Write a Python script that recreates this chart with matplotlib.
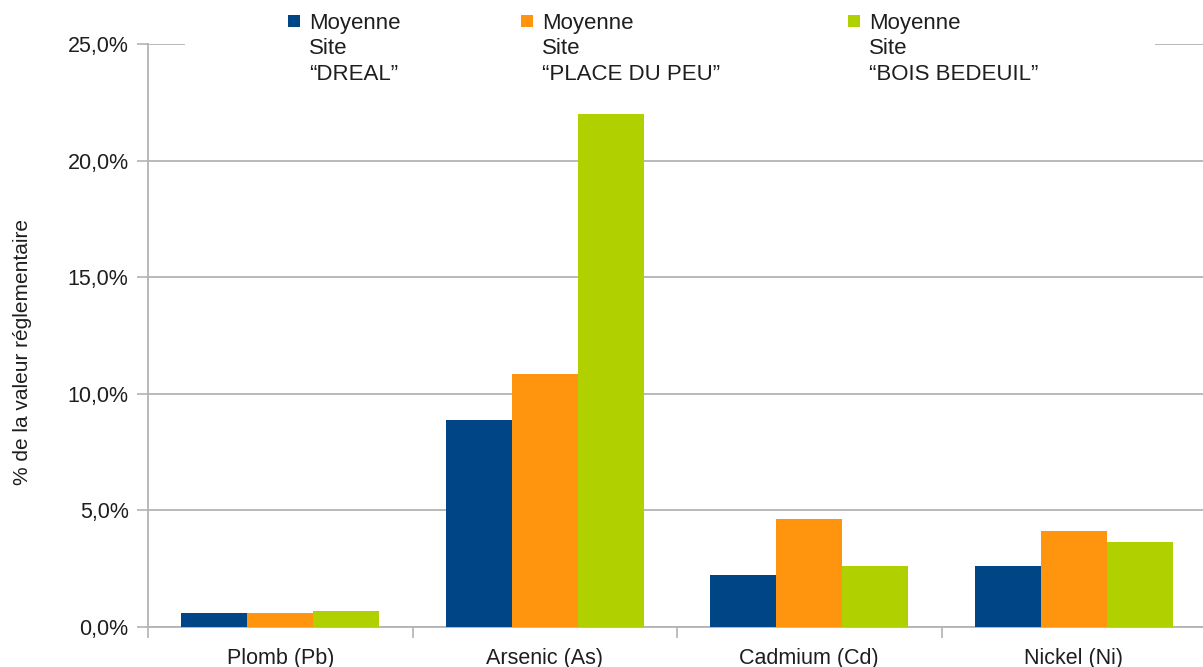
import numpy as np
import matplotlib
matplotlib.use("Agg")
import matplotlib.pyplot as plt
from matplotlib.patches import Rectangle
from matplotlib.ticker import FixedLocator, FuncFormatter

plt.rcParams['font.family'] = ['Liberation Sans', 'DejaVu Sans']

# Data
categories = ["Plomb (Pb)", "Arsenic (As)", "Cadmium (Cd)", "Nickel (Ni)"]
series_names = ["Moyenne\nSite\n“DREAL”",
                "Moyenne\nSite\n“PLACE DU PEU”",
                "Moyenne\nSite\n“BOIS BEDEUIL”"]
dreal = [0.61, 8.87, 2.24, 2.61]
place_du_peu = [0.61, 10.87, 4.63, 4.10]
bois_bedeuil = [0.67, 21.99, 2.61, 3.66]
y_ticks = [0, 5, 10, 15, 20, 25]

colors = ["#004586", "#ff950e", "#b0d000"]
grid_col = "#b3b3b3"
text_col = "#1e1e1e"

W, H = 1203, 667
fig = plt.figure(figsize=(W / 100, H / 100), dpi=100)
ax = fig.add_axes([148 / W, 40 / H, 1058 / W, 583 / H])

x = np.arange(len(categories))
bw = 0.25
for i, vals in enumerate([dreal, place_du_peu, bois_bedeuil]):
    ax.bar(x + (i - 1) * bw, vals, width=bw, color=colors[i], zorder=3,
           linewidth=0)

ax.set_xlim(-0.5, len(categories) - 0.5)
ax.set_ylim(0, 25)

# y axis
ax.yaxis.set_major_locator(FixedLocator(y_ticks))
ax.yaxis.set_major_formatter(FuncFormatter(lambda v, p: f"{v:.1f}%".replace(".", ",")))
ax.tick_params(axis="y", length=8, width=1.2, color=grid_col, pad=6,
               labelsize=15.5, labelcolor=text_col)
ax.grid(axis="y", color=grid_col, linewidth=1.3, zorder=0)

# x axis: labels centred on categories, tick marks at category boundaries
ax.set_xticks(x)
ax.set_xticklabels(categories)
ax.xaxis.set_minor_locator(FixedLocator(np.arange(-0.5, len(categories), 1.0)))
ax.tick_params(axis="x", which="major", length=0, pad=15, labelsize=15.5,
               labelcolor=text_col)
ax.tick_params(axis="x", which="minor", length=8, width=1.2, color=grid_col)

for s in ["top", "right"]:
    ax.spines[s].set_visible(False)
for s in ["left", "bottom"]:
    ax.spines[s].set_color(grid_col)
    ax.spines[s].set_linewidth(1.3)

fig.text(23 / W, 1 - 352 / H, "% de la valeur réglementaire", rotation=90,
         ha="center", va="center", fontsize=15, color=text_col)

# legend across the top, on a white band
fig.add_artist(Rectangle((185 / W, 1 - 95 / H), (1155 - 185) / W, 95 / H,
                         transform=fig.transFigure, facecolor="white",
                         edgecolor="none", zorder=5))
legend_x = [288, 521, 848]
for lx, name, c in zip(legend_x, series_names, colors):
    fig.add_artist(Rectangle((lx / W, 1 - 27 / H), 12 / W, 12 / H,
                             transform=fig.transFigure, facecolor=c,
                             edgecolor="none", zorder=6))
    fig.text((lx + 21) / W, 1 - 13 / H, name, ha="left", va="top",
             fontsize=16, color=text_col, linespacing=1.28, zorder=6)

fig.savefig("out.png", dpi=100, facecolor="white")
